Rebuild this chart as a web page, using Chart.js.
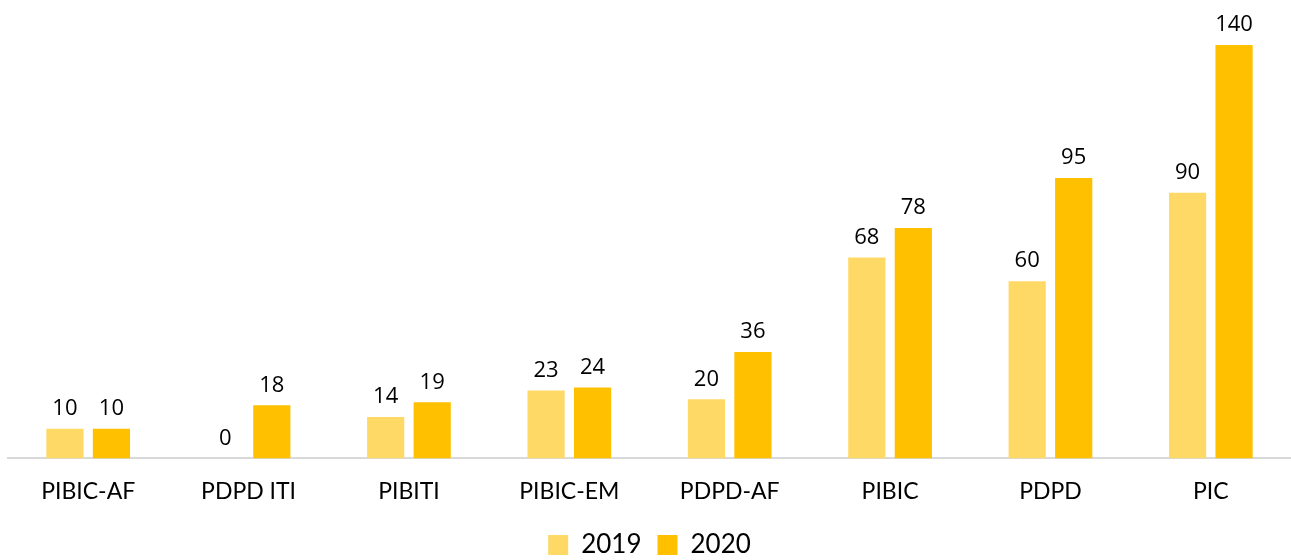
<html>

<head>
  <title>Bolsas 2019 x 2020</title>
  <script src="https://cdn.jsdelivr.net/npm/chart.js"></script>
  <style>
    html, body { margin: 0; background: #fff; overflow: hidden; }
    #wrap { width: 1291px; height: 568px; }
  </style>
</head>

<body>
  <div id="wrap">
    <canvas id="bolsasChart"></canvas>
  </div>
  <script>
    let categories = ['PIBIC-AF', 'PDPD ITI', 'PIBITI', 'PIBIC-EM', 'PDPD-AF', 'PIBIC', 'PDPD', 'PIC']
    let values2019 = [10, 0, 14, 23, 20, 68, 60, 90]
    let values2020 = [10, 18, 19, 24, 36, 78, 95, 140]

    // draws the number above each bar
    const valueLabels = {
      id: 'valueLabels',
      afterDatasetsDraw(chart) {
        const ctx = chart.ctx;
        ctx.save();
        ctx.font = '22px "Open Sans", sans-serif';
        ctx.fillStyle = '#000';
        ctx.textAlign = 'center';
        ctx.textBaseline = 'bottom';
        chart.data.datasets.forEach((ds, i) => {
          chart.getDatasetMeta(i).data.forEach((bar, j) => {
            ctx.fillText(ds.data[j], bar.x, bar.y - 9);
          });
        });
        ctx.restore();
      }
    }

    new Chart(document.getElementById('bolsasChart'), {
      type: 'bar',
      data: {
        labels: categories,
        datasets: [{
          label: '2019',
          data: values2019,
          backgroundColor: '#FFD966',
          barPercentage: 0.8,
          categoryPercentage: 0.58
        }, {
          label: '2020',
          data: values2020,
          backgroundColor: '#FFC000',
          barPercentage: 0.8,
          categoryPercentage: 0.58
        }]
      },
      options: {
        responsive: true,
        maintainAspectRatio: false,
        animation: false,
        layout: { padding: { top: 45, left: 8, right: 0, bottom: 0 } },
        plugins: {
          legend: {
            position: 'bottom',
            labels: {
              font: { size: 26, family: 'Lato, sans-serif' },
              color: '#000',
              boxWidth: 20,
              boxHeight: 20,
              padding: 16
            }
          },
          tooltip: { enabled: false }
        },
        scales: {
          x: {
            grid: { display: false },
            border: { color: '#d9d9d9', width: 2 },
            ticks: {
              color: '#000',
              font: { size: 23, family: 'Lato, sans-serif' },
              padding: 11
            }
          },
          y: {
            display: false,
            min: 0,
            max: 140
          }
        }
      },
      plugins: [valueLabels]
    });
  </script>
</body>

</html>
